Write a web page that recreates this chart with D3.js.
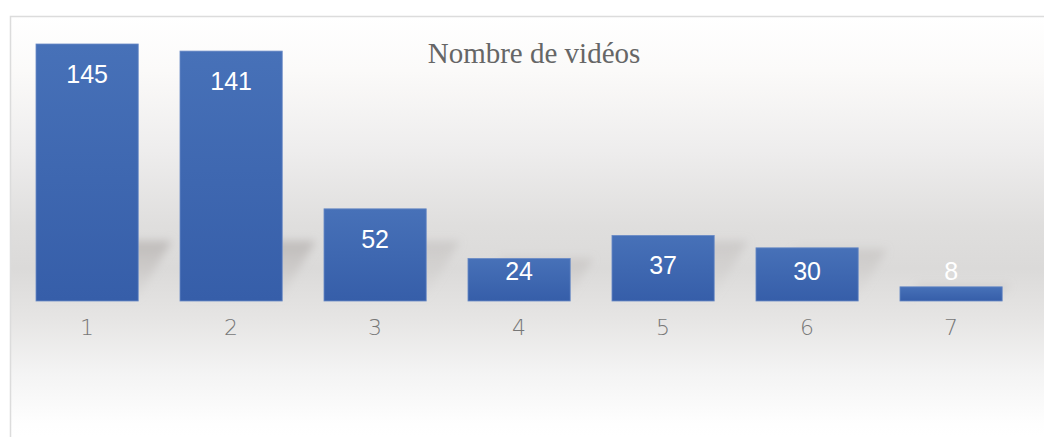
<!DOCTYPE html>
<html>
<head>
<meta charset="utf-8">
<script src="https://cdn.jsdelivr.net/npm/d3@7"></script>
<style>
html,body{margin:0;padding:0;background:#fff;}
svg{display:block;}
</style>
</head>
<body>
<script>
const categories = ["1","2","3","4","5","6","7"];
const values = [145, 141, 52, 24, 37, 30, 8];
const title = "Nombre de vidéos";

const W = 1044, H = 437;
const svg = d3.select("body").append("svg").attr("width", W).attr("height", H);
const defs = svg.append("defs");

const bg = defs.append("linearGradient").attr("id","bg").attr("x1",0).attr("y1",0).attr("x2",0).attr("y2",1);
[[0,"#ffffff"],[0.13,"#fbfaf9"],[0.32,"#eeeded"],[0.5,"#dfdedd"],[0.6,"#dbdad9"],[0.72,"#e6e5e4"],[0.85,"#f4f4f4"],[0.97,"#fefefe"],[1,"#ffffff"]]
  .forEach(([o,c]) => bg.append("stop").attr("offset",o).attr("stop-color",c));

const bar = defs.append("linearGradient").attr("id","bar").attr("x1",0).attr("y1",0).attr("x2",0).attr("y2",1);
bar.append("stop").attr("offset",0).attr("stop-color","#4771b8");
bar.append("stop").attr("offset",1).attr("stop-color","#365ea9");

const shg = defs.append("linearGradient").attr("id","shg").attr("x1",0).attr("y1",0).attr("x2",0).attr("y2",1);
shg.append("stop").attr("offset",0).attr("stop-color","#b3afad").attr("stop-opacity",0.75);
shg.append("stop").attr("offset",0.4).attr("stop-color","#bdb9b7").attr("stop-opacity",0.55);
shg.append("stop").attr("offset",1).attr("stop-color","#c8c5c3").attr("stop-opacity",0.15);

const blur = defs.append("filter").attr("id","blur").attr("x","-50%").attr("y","-50%").attr("width","200%").attr("height","200%");
blur.append("feGaussianBlur").attr("stdDeviation",4);

// chart area
svg.append("rect").attr("x",10).attr("y",16).attr("width",W-10).attr("height",H-16)
  .attr("fill","url(#bg)");
svg.append("path").attr("d",`M10.5,${H} V16.5 H${W}`).attr("fill","none").attr("stroke","#dcdcdc").attr("stroke-width",1.5);

const x = d3.scaleBand().domain(categories).range([14.4, 1023.8]).paddingInner(0.29).paddingOuter(0.15);
const y = d3.scaleLinear().domain([0, 145]).range([301, 44]);

// soft perspective shadows behind bars
const shadows = svg.append("g").attr("filter","url(#blur)");
categories.forEach((c,i) => {
  const x0 = x(c), x1 = x(c) + x.bandwidth();
  const b = y(0) - 4;
  const h = y(0) - y(values[i]);
  const s = Math.min(h * 0.9, 56);
  const dx = s * 0.6;
  shadows.append("path")
    .attr("d", `M${x0+10},${b} L${x1},${b} L${x1+dx},${b-s} L${x0+10+dx},${b-s} Z`)
    .attr("fill","url(#shg)")
    .attr("opacity", h > 150 ? 1 : 0.55);
});

svg.append("text").attr("x",534).attr("y",63).attr("text-anchor","middle")
  .attr("font-family","'Liberation Serif','Times New Roman',serif").attr("font-size",29)
  .attr("fill","#666").text(title);

svg.append("g").selectAll("rect").data(values).join("rect")
  .attr("x",(d,i)=>x(categories[i]))
  .attr("y",d=>y(d))
  .attr("width",x.bandwidth())
  .attr("height",d=>y(0)-y(d))
  .attr("fill","url(#bar)")
  .attr("stroke","#6a8bc6").attr("stroke-width",0.8);

svg.append("g").selectAll("text").data(values).join("text")
  .attr("x",(d,i)=>x(categories[i])+x.bandwidth()/2)
  .attr("y",d=> (y(0)-y(d) > 30) ? Math.min(y(d)+30, y(0)-30) + 9 : y(d)-7)
  .attr("text-anchor","middle")
  .attr("font-family","'Liberation Sans',Arial,sans-serif").attr("font-size",25)
  .attr("fill","#fff").text(d=>d);

const xAxis = d3.axisBottom(x).tickSize(0).tickPadding(0);
const gx = svg.append("g").attr("transform",`translate(0,${y(0)})`).call(xAxis);
gx.select(".domain").remove();
gx.selectAll("text").attr("dy",null).attr("y",34)
  .attr("font-family","'DejaVu Sans',sans-serif").attr("font-weight",200).attr("font-size",22)
  .attr("fill","#777");
</script>
</body>
</html>
